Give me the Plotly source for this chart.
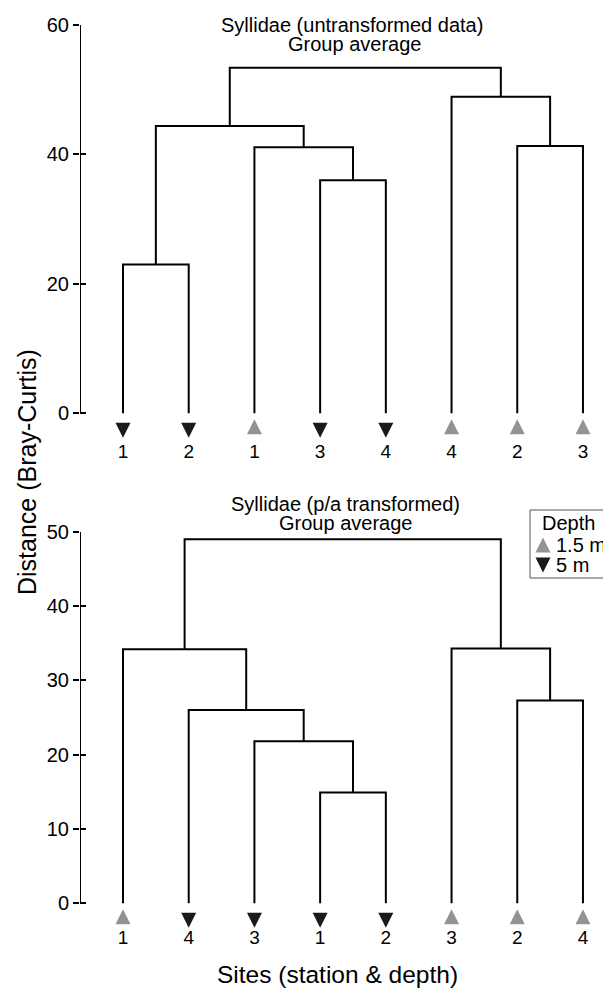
import plotly.graph_objects as go

# ---------------- data ----------------
top_leaf_labels = ["1", "2", "1", "3", "4", "4", "2", "3"]
top_leaf_depth = ["5 m", "5 m", "1.5 m", "5 m", "5 m", "1.5 m", "1.5 m", "1.5 m"]
top_merge_left = [0, 3, 2, 8, 6, 5, 11]
top_merge_right = [1, 4, 9, 10, 7, 12, 13]
top_merge_height = [23.0, 36.0, 41.1, 44.4, 41.3, 48.9, 53.4]
top_yticks = [0, 20, 40, 60]

bot_leaf_labels = ["1", "4", "3", "1", "2", "3", "2", "4"]
bot_leaf_depth = ["1.5 m", "5 m", "5 m", "5 m", "5 m", "1.5 m", "1.5 m", "1.5 m"]
bot_merge_left = [3, 2, 1, 0, 6, 5, 11]
bot_merge_right = [4, 8, 9, 10, 7, 12, 13]
bot_merge_height = [14.9, 21.8, 26.0, 34.2, 27.3, 34.3, 49.0]
bot_yticks = [0, 10, 20, 30, 40, 50]

depth_classes = ["1.5 m", "5 m"]

# ---------------- layout constants ----------------
# All pixel constants below are window (screenshot) pixels; the page places the
# figure 8 px in from the top-left corner, so the figure itself is 8 px smaller.
OFF = 8
WIN_W, WIN_H = 611, 1006
W, H = WIN_W - OFF, WIN_H - OFF
FONT = "Liberation Sans, Arial, Helvetica, sans-serif"
GRAY = "#939393"
BLACK = "#1a1a1a"
SYMBOL = {"1.5 m": "arrow-up", "5 m": "arrow-down"}   # tip sits on the point
COLOR = {"1.5 m": GRAY, "5 m": BLACK}
TIP_OFF = {"1.5 m": 6.0, "5 m": 24.5}                 # px below the zero line
MSIZE = 15

AX_LEFT = 80
LEAF0, LEAF_STEP = 123, 65.71
TOP_Y0, TOP_YMAX_PX, TOP_BOTTOM_PX = 413.3, 25.0, 475.0
BOT_Y0, BOT_YMAX_PX, BOT_BOTTOM_PX = 903.3, 531.7, 960.0


def fx(px):   # window px -> figure paper fraction (x)
    return (px - OFF) / W


def fy(py):   # window px -> figure paper fraction (y)
    return 1 - (py - OFF) / H


x_range = [(AX_LEFT - LEAF0) / LEAF_STEP, (WIN_W - LEAF0) / LEAF_STEP]


def dendro_path(n_leaves, left, right, height):
    xs_node = list(range(n_leaves))
    ys_node = [0.0] * n_leaves
    px, py = [], []
    for a, b, h in zip(left, right, height):
        xa, ya, xb, yb = xs_node[a], ys_node[a], xs_node[b], ys_node[b]
        px += [xa, xa, xb, xb, None]
        py += [ya, h, h, yb, None]
        xs_node.append((xa + xb) / 2)
        ys_node.append(h)
    return px, py


fig = go.Figure()


def add_panel(xa, ya, labels, depth, left, right, height, yticks, y0px, ymaxpx, label_off):
    ppu = (y0px - ymaxpx) / yticks[-1]
    # axis line from first to last tick
    fig.add_trace(go.Scatter(x=[x_range[0], x_range[0]], y=[yticks[0], yticks[-1]],
                             mode="lines", xaxis=xa, yaxis=ya, cliponaxis=False,
                             line=dict(color="black", width=2), hoverinfo="skip",
                             showlegend=False))
    px, py = dendro_path(len(labels), left, right, height)
    fig.add_trace(go.Scatter(x=px, y=py, mode="lines", xaxis=xa, yaxis=ya,
                             line=dict(color="black", width=2), hoverinfo="skip",
                             showlegend=False, cliponaxis=False))
    xs = list(range(len(labels)))
    for d in depth_classes:
        dx = [x for x, dd in zip(xs, depth) if dd == d]
        fig.add_trace(go.Scatter(x=dx, y=[-TIP_OFF[d] / ppu] * len(dx), mode="markers",
                                 xaxis=xa, yaxis=ya, cliponaxis=False, showlegend=False,
                                 hoverinfo="skip",
                                 marker=dict(symbol=SYMBOL[d], size=MSIZE, color=COLOR[d],
                                             line=dict(width=0))))
    fig.add_trace(go.Scatter(x=xs, y=[-label_off / ppu] * len(xs), mode="text",
                             text=labels, textposition="middle center",
                             textfont=dict(family=FONT, size=19, color="black"),
                             xaxis=xa, yaxis=ya, cliponaxis=False, showlegend=False,
                             hoverinfo="skip"))
    return ppu


ppu_top = add_panel("x", "y", top_leaf_labels, top_leaf_depth, top_merge_left,
                    top_merge_right, top_merge_height, top_yticks, TOP_Y0, TOP_YMAX_PX, 40)
ppu_bot = add_panel("x2", "y2", bot_leaf_labels, bot_leaf_depth, bot_merge_left,
                    bot_merge_right, bot_merge_height, bot_yticks, BOT_Y0, BOT_YMAX_PX, 35.5)

top_range = [-(TOP_BOTTOM_PX - TOP_Y0) / ppu_top, top_yticks[-1]]
bot_range = [-(BOT_BOTTOM_PX - BOT_Y0) / ppu_bot, bot_yticks[-1]]

# legend key symbols (drawn in the lower panel, right-hand side)
LEG_SYM_X = 543
LEG_ROWS_Y = {"1.5 m": 545, "5 m": 565}
for d in depth_classes:
    tip = LEG_ROWS_Y[d] + (-MSIZE / 2 if d == "1.5 m" else MSIZE / 2)
    fig.add_trace(go.Scatter(
        x=[(LEG_SYM_X - LEAF0) / LEAF_STEP], y=[(BOT_Y0 - tip) / ppu_bot],
        mode="markers", xaxis="x2", yaxis="y2", showlegend=False, hoverinfo="skip",
        cliponaxis=False,
        marker=dict(symbol=SYMBOL[d], size=MSIZE, color=COLOR[d], line=dict(width=0))))

# empty traces so the overlay (inner tick) axes exist
fig.add_trace(go.Scatter(x=[], y=[], xaxis="x", yaxis="y3", showlegend=False))
fig.add_trace(go.Scatter(x=[], y=[], xaxis="x2", yaxis="y4", showlegend=False))

xdom = [fx(AX_LEFT), 1]
top_dom = [fy(TOP_BOTTOM_PX), fy(TOP_YMAX_PX)]
bot_dom = [fy(BOT_BOTTOM_PX), fy(BOT_YMAX_PX)]

hidden_x = dict(domain=xdom, range=x_range, showline=False, showgrid=False,
                zeroline=False, showticklabels=False, ticks="", fixedrange=True,
                automargin=False)


def yax(dom, rng, ticks, anchor):
    return dict(domain=dom, range=rng, anchor=anchor, tickvals=ticks,
                ticks="outside", ticklen=6, tickwidth=2, tickcolor="black",
                showline=False, showgrid=False, zeroline=False, automargin=False,
                fixedrange=True,
                tickfont=dict(family=FONT, size=20, color="black"))


def yax_inner(rng, ticks, overlay, anchor):
    return dict(overlaying=overlay, anchor=anchor, range=rng, tickvals=ticks,
                ticks="inside", ticklen=6, tickwidth=2, tickcolor="black",
                showline=False, showgrid=False, zeroline=False, showticklabels=False,
                automargin=False, fixedrange=True)


fig.update_layout(
    template="none",
    width=W, height=H,
    margin=dict(l=0, r=0, t=0, b=0, pad=0),
    paper_bgcolor="white", plot_bgcolor="rgba(0,0,0,0)",
    showlegend=False,
    font=dict(family=FONT, color="black"),
    xaxis=dict(hidden_x, anchor="y"),
    xaxis2=dict(hidden_x, anchor="y2"),
    yaxis=yax(top_dom, top_range, top_yticks, "x"),
    yaxis2=yax(bot_dom, bot_range, bot_yticks, "x2"),
    yaxis3=yax_inner(top_range, top_yticks, "y", "x"),
    yaxis4=yax_inner(bot_range, bot_yticks, "y2", "x2"),
)


def px_ann(text, x, y, size, xanchor="center", **kw):
    fig.add_annotation(text=text, x=fx(x), y=fy(y), xref="paper", yref="paper",
                       xanchor=xanchor, yanchor="middle", showarrow=False,
                       font=dict(family=FONT, size=size, color="black"), **kw)


# panel titles
px_ann("Syllidae (untransformed data)", 352, 25, 20)
px_ann("Group average", 354, 44, 20)
px_ann("Syllidae (p/a transformed)", 345, 504, 20)
px_ann("Group average", 345, 523, 20)

# axis titles
px_ann("Distance (Bray-Curtis)", 27, 472, 25, textangle=-90)
px_ann("Sites (station & depth)", 337, 974, 24.5)

# legend box and texts
fig.add_shape(type="rect", xref="paper", yref="paper",
              x0=fx(530), x1=fx(650), y0=fy(510), y1=fy(578),
              line=dict(color="#555555", width=1), fillcolor="rgba(0,0,0,0)",
              layer="above")
px_ann("Depth", 540, 523, 20, xanchor="left")
for d in depth_classes:
    px_ann(d, 554, LEG_ROWS_Y[d], 20, xanchor="left")

fig.write_html("out.html")
